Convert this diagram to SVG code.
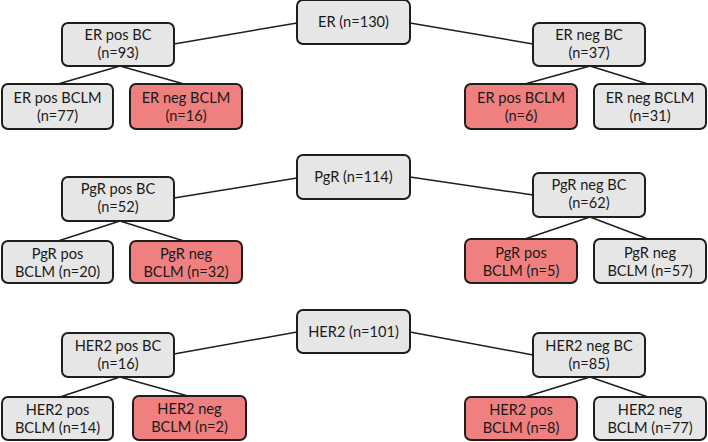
<svg xmlns="http://www.w3.org/2000/svg" width="708" height="442" viewBox="0 0 708 442">
<style>
.box{stroke:#1e1e1e;stroke-width:2}
.g{fill:#e6e6e6}
.r{fill:#f08080}
text{font-family:Lato,"Liberation Sans",sans-serif;font-size:14.6px;fill:#1a1a1a;text-anchor:middle}
.conn line{stroke:#1e1e1e;stroke-width:1.5}
</style>
<rect width="708" height="442" fill="#ffffff"/>
<g class="conn">
<line x1="297" y1="23" x2="174" y2="44"/>
<line x1="410" y1="23" x2="533" y2="44"/>
<line x1="120" y1="66" x2="58" y2="84"/>
<line x1="120" y1="66" x2="184" y2="84"/>
<line x1="590" y1="66" x2="525" y2="84"/>
<line x1="590" y1="66" x2="648" y2="84"/>
<line x1="297" y1="178" x2="174" y2="198"/>
<line x1="410" y1="177" x2="533" y2="195"/>
<line x1="120" y1="221" x2="58" y2="241"/>
<line x1="120" y1="221" x2="184" y2="241"/>
<line x1="590" y1="217" x2="525" y2="239"/>
<line x1="590" y1="217" x2="648" y2="239"/>
<line x1="297" y1="332" x2="174" y2="354"/>
<line x1="410" y1="332" x2="533" y2="355"/>
<line x1="120" y1="377" x2="60" y2="397"/>
<line x1="120" y1="377" x2="188" y2="396"/>
<line x1="590" y1="377" x2="525" y2="397"/>
<line x1="590" y1="377" x2="648" y2="397"/>
</g>
<g id="er-root"><rect class="box g" x="297" y="0" width="113" height="44" rx="6"/><text x="353.5" y="27">ER (n=130)</text></g>
<g id="er-pos-bc"><rect class="box g" x="62" y="23" width="112" height="43" rx="6"/><text x="118" y="40">ER pos BC</text><text x="118" y="58">(n=93)</text></g>
<g id="er-neg-bc"><rect class="box g" x="533" y="23" width="112" height="43" rx="6"/><text x="589" y="40">ER neg BC</text><text x="589" y="58">(n=37)</text></g>
<g id="er-pos-bclm-l"><rect class="box g" x="2" y="84" width="111" height="45" rx="6"/><text x="57.5" y="103">ER pos BCLM</text><text x="57.5" y="121">(n=77)</text></g>
<g id="er-neg-bclm-l"><rect class="box r" x="130" y="84" width="112" height="45" rx="6"/><text x="186" y="103">ER neg BCLM</text><text x="186" y="121">(n=16)</text></g>
<g id="er-pos-bclm-r"><rect class="box r" x="465" y="84" width="112" height="45" rx="6"/><text x="521" y="103">ER pos BCLM</text><text x="521" y="121">(n=6)</text></g>
<g id="er-neg-bclm-r"><rect class="box g" x="594" y="84" width="112" height="45" rx="6"/><text x="650" y="103">ER neg BCLM</text><text x="650" y="121">(n=31)</text></g>

<g id="pgr-root"><rect class="box g" x="297" y="155" width="113" height="44" rx="6"/><text x="353.5" y="182">PgR (n=114)</text></g>
<g id="pgr-pos-bc"><rect class="box g" x="62" y="177" width="112" height="44" rx="6"/><text x="118" y="194">PgR pos BC</text><text x="118" y="212">(n=52)</text></g>
<g id="pgr-neg-bc"><rect class="box g" x="533" y="173" width="112" height="44" rx="6"/><text x="589" y="190">PgR neg BC</text><text x="589" y="208">(n=62)</text></g>
<g id="pgr-pos-bclm-l"><rect class="box g" x="2" y="241" width="111" height="42" rx="6"/><text x="57.5" y="259">PgR pos</text><text x="57.5" y="277">BCLM (n=20)</text></g>
<g id="pgr-neg-bclm-l"><rect class="box r" x="130" y="241" width="112" height="42" rx="6"/><text x="186" y="259">PgR neg</text><text x="186" y="277">BCLM (n=32)</text></g>
<g id="pgr-pos-bclm-r"><rect class="box r" x="465" y="239" width="112" height="44" rx="6"/><text x="521" y="258">PgR pos</text><text x="521" y="276">BCLM (n=5)</text></g>
<g id="pgr-neg-bclm-r"><rect class="box g" x="594" y="239" width="112" height="44" rx="6"/><text x="650" y="258">PgR neg</text><text x="650" y="276">BCLM (n=57)</text></g>

<g id="her2-root"><rect class="box g" x="297" y="310" width="113" height="43" rx="6"/><text x="353.5" y="337">HER2 (n=101)</text></g>
<g id="her2-pos-bc"><rect class="box g" x="62" y="333" width="112" height="44" rx="6"/><text x="118" y="351">HER2 pos BC</text><text x="118" y="369">(n=16)</text></g>
<g id="her2-neg-bc"><rect class="box g" x="533" y="333" width="112" height="44" rx="6"/><text x="589" y="351">HER2 neg BC</text><text x="589" y="369">(n=85)</text></g>
<g id="her2-pos-bclm-l"><rect class="box g" x="2" y="397" width="111" height="43" rx="6"/><text x="57.5" y="415">HER2 pos</text><text x="57.5" y="433">BCLM (n=14)</text></g>
<g id="her2-neg-bclm-l"><rect class="box r" x="133" y="396" width="113" height="44" rx="6"/><text x="189.5" y="414">HER2 neg</text><text x="189.5" y="432">BCLM (n=2)</text></g>
<g id="her2-pos-bclm-r"><rect class="box r" x="465" y="397" width="112" height="43" rx="6"/><text x="521" y="415">HER2 pos</text><text x="521" y="433">BCLM (n=8)</text></g>
<g id="her2-neg-bclm-r"><rect class="box g" x="594" y="397" width="112" height="43" rx="6"/><text x="650" y="415">HER2 neg</text><text x="650" y="433">BCLM (n=77)</text></g>
</svg>
